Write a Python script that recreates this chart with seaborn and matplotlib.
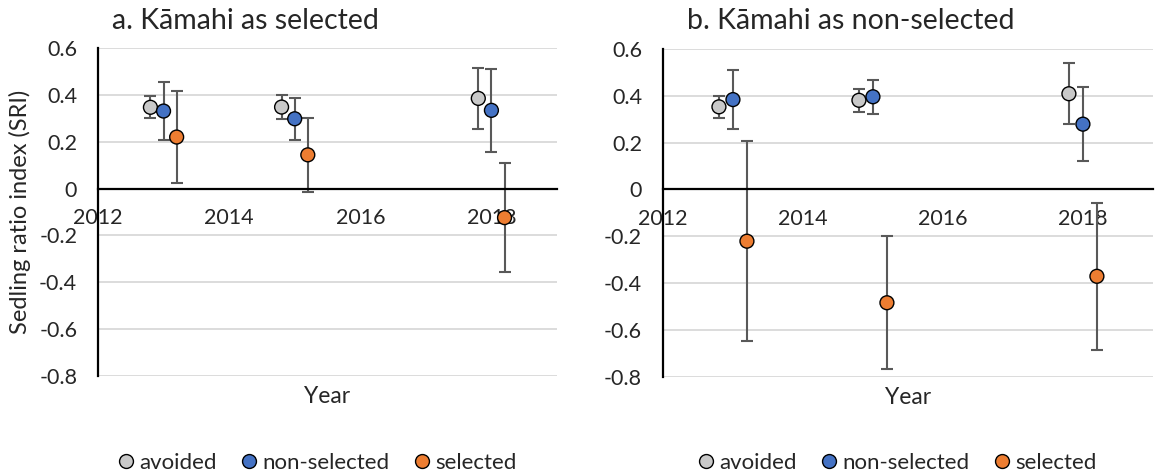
import numpy as np
import pandas as pd
import matplotlib
matplotlib.use("Agg")
import matplotlib.pyplot as plt
import seaborn as sns

# values
years = [2013, 2015, 2018]
groups = ["avoided", "non-selected", "selected"]

a_avoided = [0.347, 0.348, 0.385]
a_avoided_err = [0.047, 0.050, 0.131]
a_nonsel = [0.331, 0.298, 0.334]
a_nonsel_err = [0.125, 0.090, 0.178]
a_selected = [0.220, 0.144, -0.124]
a_selected_err = [0.195, 0.157, 0.232]

b_avoided = [0.353, 0.381, 0.409]
b_avoided_err = [0.047, 0.050, 0.131]
b_nonsel = [0.384, 0.396, 0.279]
b_nonsel_err = [0.125, 0.072, 0.157]
b_selected = [-0.221, -0.484, -0.371]
b_selected_err = [0.427, 0.284, 0.315]

titles = ["a. Kāmahi as selected", "b. Kāmahi as non-selected"]
yticks = [0.6, 0.4, 0.2, 0, -0.2, -0.4, -0.6, -0.8]
ytick_labels = ["0.6", "0.4", "0.2", "0", "-0.2", "-0.4", "-0.6", "-0.8"]
xticks = [2012, 2014, 2016, 2018]

# dodge offsets so the three groups sit side by side
offsets = {"avoided": -0.2, "non-selected": 0.0, "selected": 0.2}
palette = {"avoided": "#c9c9c9", "non-selected": "#4472c4", "selected": "#ed7d31"}

def make_df(panel, avoided, avoided_err, nonsel, nonsel_err, selected, selected_err):
    rows = []
    for g, vals, errs in zip(groups, [avoided, nonsel, selected],
                             [avoided_err, nonsel_err, selected_err]):
        for yr, v, e in zip(years, vals, errs):
            rows.append({"panel": panel, "group": g, "year": yr,
                         "x": yr + offsets[g], "sri": v, "err": e})
    return pd.DataFrame(rows)

df = pd.concat([
    make_df("a", a_avoided, a_avoided_err, a_nonsel, a_nonsel_err, a_selected, a_selected_err),
    make_df("b", b_avoided, b_avoided_err, b_nonsel, b_nonsel_err, b_selected, b_selected_err),
], ignore_index=True)

sns.set_style("white")
plt.rcParams["font.family"] = ["Lato", "DejaVu Sans"]

fig = plt.figure(figsize=(11.58, 4.76), dpi=100)
ax_a = fig.add_axes([0.0846, 0.2101, 0.3964, 0.689])
ax_b = fig.add_axes([0.5725, 0.2086, 0.4231, 0.6884])

for ax, panel, title in zip([ax_a, ax_b], ["a", "b"], titles):
    d = df[df["panel"] == panel]
    for g in groups:
        dg = d[d["group"] == g]
        ax.errorbar(dg["x"], dg["sri"], yerr=dg["err"], fmt="none",
                    ecolor="#595959", elinewidth=1.5, capsize=4, capthick=1.5, zorder=2)
    sns.scatterplot(data=d, x="x", y="sri", hue="group", hue_order=groups,
                    palette=palette, s=100, edgecolor="black", linewidth=1.0,
                    zorder=3, ax=ax)

    ax.set_xlim(2012, 2019)
    ax.set_ylim(-0.8, 0.6)
    ax.set_yticks(yticks)
    ax.set_yticklabels(ytick_labels)
    ax.set_xticks(xticks)
    ax.set_xticklabels([str(x) for x in xticks])
    ax.yaxis.grid(True, color="#d9d9d9", linewidth=1.3)
    ax.set_axisbelow(True)

    for s in ["top", "right"]:
        ax.spines[s].set_visible(False)
    ax.spines["bottom"].set_position(("data", 0))
    ax.spines["bottom"].set_linewidth(1.6)
    ax.spines["left"].set_linewidth(1.6)
    ax.spines["bottom"].set_color("black")
    ax.spines["left"].set_color("black")
    ax.tick_params(axis="x", direction="out", length=5, width=1.5, pad=9, labelsize=15.5)
    ax.tick_params(axis="y", direction="out", length=6, width=1.5, pad=9, labelsize=15.5)

    ax.set_xlabel("Year", fontsize=16.5)
    ax.xaxis.set_label_coords(0.5, -0.03)
    ax.set_ylabel("")

    sns.move_legend(ax, "center", bbox_to_anchor=(0.478, -0.264), ncol=3,
                    frameon=False, title=None, fontsize=16,
                    handlelength=0.7, handletextpad=0.25, columnspacing=1.1)

ax_a.set_ylabel("Sedling ratio index (SRI)", fontsize=17, labelpad=6)

fig.text(112 / 1158, 1 - 21 / 476, titles[0], fontsize=20.5, ha="left", va="center")
fig.text(687 / 1158, 1 - 21 / 476, titles[1], fontsize=20.5, ha="left", va="center")

fig.savefig("out.png", dpi=100)
